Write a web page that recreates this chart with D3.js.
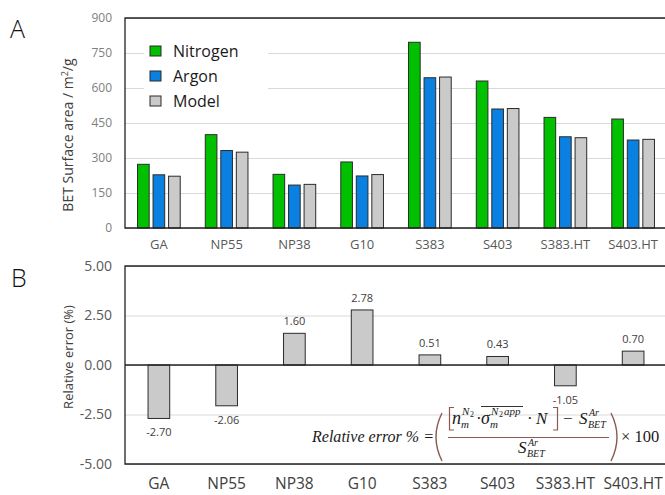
<!DOCTYPE html>
<html lang="en">
  <head>
    <meta charset="utf-8">
    <title>BET surface area</title>
    <script src="https://d3js.org/d3.v7.js"></script>
    <style>
      body { margin: 0; background: white; }
      text { font-family: "Open Sans", "Noto Sans", sans-serif; }
      .eq { font-family: "Liberation Serif", "DejaVu Serif", serif; font-style: italic; fill: #1a1a1a; }
    </style>
  </head>
  <body>
  <script>

var categories = ["GA", "NP55", "NP38", "G10", "S383", "S403", "S383.HT", "S403.HT"];
var seriesNames = ["Nitrogen", "Argon", "Model"];
var nitrogen = [273, 400, 230, 283, 796, 630, 474, 467];
var argon = [228, 332, 184, 223, 644, 510, 391, 377];
var model = [222, 325, 187, 229, 647, 512, 387, 380];
var relError = [-2.70, -2.06, 1.60, 2.78, 0.51, 0.43, -1.05, 0.70];
var topTicks = [0, 150, 300, 450, 600, 750, 900];
var bottomTicks = [-5, -2.5, 0, 2.5, 5];

var colors = {Nitrogen: "#00c000", Argon: "#0a80e0", Model: "#cacaca"};

var w = 665, h = 495;
var left = 125, right = 667;
var fmt = d => d3.format(".2f")(d).replace("\u2212", "-");

var svg = d3.select("body").append("svg")
    .attr("width", w)
    .attr("height", h);

// ---------- panel A ----------
var yA = d3.scaleLinear().domain([0, 900]).range([228, 18]);
var xA = d3.scaleBand().domain(categories).range([left, right])
    .paddingInner(0.37).paddingOuter(0.185);
var xSub = d3.scaleBand().domain(seriesNames).range([0, xA.bandwidth()])
    .paddingInner(0.25);

var gridA = svg.append("g")
    .attr("transform", `translate(${left},0)`)
    .call(d3.axisLeft(yA).tickValues(topTicks).tickSize(-(right - left)).tickPadding(13));
gridA.select(".domain").remove();
gridA.selectAll("line").attr("stroke", "#d9d9d9");
gridA.selectAll("text").attr("fill", "#808080").style("font-size", "12px");

var rows = categories.map((c, i) => ({cat: c, Nitrogen: nitrogen[i], Argon: argon[i], Model: model[i]}));

svg.append("g").selectAll("g")
    .data(rows)
  .enter().append("g")
    .attr("transform", d => `translate(${xA(d.cat)},0)`)
  .selectAll("rect")
    .data(d => seriesNames.map(s => ({s: s, v: d[s]})))
  .enter().append("rect")
    .attr("x", d => xSub(d.s))
    .attr("y", d => yA(d.v))
    .attr("width", xSub.bandwidth())
    .attr("height", d => yA(0) - yA(d.v))
    .attr("fill", d => colors[d.s])
    .attr("stroke", "#2b2b2b")
    .attr("stroke-width", 1);

// frame
svg.append("path")
    .attr("d", `M${right},${yA(900)}H${left}V${yA(0)}H${right}`)
    .attr("fill", "none").attr("stroke", "#222").attr("stroke-width", 1.3);

var catA = svg.append("g")
    .attr("transform", `translate(0,${yA(0)})`)
    .call(d3.axisBottom(xA).tickSize(0).tickPadding(12));
catA.select(".domain").remove();
catA.selectAll("text").attr("fill", "#595959").style("font-size", "13px");

// legend
var legend = svg.append("g");
legend.append("rect").attr("x", 144).attr("y", 36).attr("width", 124).attr("height", 80).attr("fill", "white");
seriesNames.forEach(function (s, i) {
  var yy = 46 + i * 25;
  legend.append("rect").attr("x", 150).attr("y", yy).attr("width", 11).attr("height", 10)
      .attr("fill", colors[s]).attr("stroke", "#2b2b2b");
  legend.append("text").attr("x", 173).attr("y", yy + 11).text(s)
      .style("font-size", "16px").attr("fill", "#1a1a1a");
});

svg.append("text")
    .attr("transform", "translate(73,135) rotate(-90)")
    .attr("text-anchor", "middle")
    .style("font-size", "14px").attr("fill", "#404040")
    .html("BET Surface area  /  m<tspan dy='-5' font-size='9px'>2</tspan><tspan dy='5'>/g</tspan>");

svg.append("text").attr("x", 10).attr("y", 38).text("A")
    .style("font-size", "25px").style("font-weight", 300).attr("fill", "#111");

// ---------- panel B ----------
var yB = d3.scaleLinear().domain([-5, 5]).range([464, 266]);
var xB = d3.scaleBand().domain(categories).range([left, right])
    .paddingInner(0.68).paddingOuter(0.34);

var gridB = svg.append("g")
    .attr("transform", `translate(${left},0)`)
    .call(d3.axisLeft(yB).tickValues(bottomTicks).tickFormat(fmt)
      .tickSize(-(right - left)).tickPadding(13));
gridB.select(".domain").remove();
gridB.selectAll("line").attr("stroke", "#d9d9d9");
gridB.selectAll("text").attr("fill", "#595959").style("font-size", "14px");

svg.append("g").selectAll("rect")
    .data(relError)
  .enter().append("rect")
    .attr("x", (d, i) => xB(categories[i]))
    .attr("y", d => yB(Math.max(0, d)))
    .attr("width", xB.bandwidth())
    .attr("height", d => Math.abs(yB(d) - yB(0)))
    .attr("fill", "#cacaca")
    .attr("stroke", "#2b2b2b");

svg.append("g").selectAll("text")
    .data(relError)
  .enter().append("text")
    .attr("x", (d, i) => xB(categories[i]) + xB.bandwidth() / 2)
    .attr("y", d => d >= 0 ? yB(d) - 8 : yB(d) + 18)
    .attr("text-anchor", "middle")
    .style("font-size", "11px").attr("fill", "#404040")
    .text(fmt);

svg.append("path")
    .attr("d", `M${right},${yB(5)}H${left}V${yB(-5)}H${right}`)
    .attr("fill", "none").attr("stroke", "#222").attr("stroke-width", 1.3);
svg.append("line")
    .attr("x1", left).attr("x2", right).attr("y1", yB(0)).attr("y2", yB(0))
    .attr("stroke", "#222").attr("stroke-width", 1.3);

var catB = svg.append("g")
    .attr("transform", `translate(0,${yB(-5)})`)
    .call(d3.axisBottom(xB).tickSize(0).tickPadding(14));
catB.select(".domain").remove();
catB.selectAll("text").attr("fill", "#404040").style("font-size", "15.5px");

svg.append("text")
    .attr("transform", "translate(73,357) rotate(-90)")
    .attr("text-anchor", "middle")
    .style("font-size", "13px").attr("fill", "#404040")
    .text("Relative error (%)");

svg.append("text").attr("x", 11).attr("y", 287).text("B")
    .style("font-size", "25px").style("font-weight", 300).attr("fill", "#111");

// ---------- equation ----------
var eq = svg.append("g");
var brown = "#8a5a50";
function t(x, y, s, size, upright) {
  var el = eq.append("text").attr("class", "eq").attr("x", x).attr("y", y)
      .style("font-size", size + "px").text(s);
  if (upright) el.style("font-style", "normal");
  return el;
}
t(312, 442, "Relative error % =", 16.5).attr("textLength", 122).attr("lengthAdjust", "spacingAndGlyphs");
eq.append("path").attr("d", "M442,413 Q430,437 442,461").attr("fill", "none").attr("stroke", brown).attr("stroke-width", 1.4);
eq.append("path").attr("d", "M611,413 Q623,437 611,461").attr("fill", "none").attr("stroke", brown).attr("stroke-width", 1.4);
eq.append("line").attr("x1", 448).attr("x2", 609).attr("y1", 437.5).attr("y2", 437.5).attr("stroke", brown).attr("stroke-width", 1);
eq.append("path").attr("d", "M454,407.5H449.5V430H454").attr("fill", "none").attr("stroke", brown).attr("stroke-width", 1.2);
eq.append("path").attr("d", "M553,407.5H557.5V430H553").attr("fill", "none").attr("stroke", brown).attr("stroke-width", 1.2);
// numerator
t(452, 424, "n", 18);
t(461, 428, "m", 11);
t(462, 415, "N", 11); t(470, 417, "2", 8, true);
t(476, 424, "·", 17, true);
t(481, 424, "σ", 18);
t(490, 428, "m", 11);
t(491, 415, "N", 11); t(499, 417, "2", 8, true); t(504, 415, "app", 11);
eq.append("line").attr("x1", 481).attr("x2", 523).attr("y1", 406.5).attr("y2", 406.5).attr("stroke", "#333").attr("stroke-width", 1);
t(527, 424, "·", 17, true);
t(536, 424, "N", 17);
t(563, 424, "−", 17, true);
t(579, 424, "S", 17);
t(588, 428, "BET", 10);
t(589, 416, "Ar", 10);
// denominator
t(518, 453, "S", 17);
t(527, 457, "BET", 10);
t(528, 446, "Ar", 10);
t(621, 442, "× 100", 16.5, true);

  </script>
  </body>
</html>
